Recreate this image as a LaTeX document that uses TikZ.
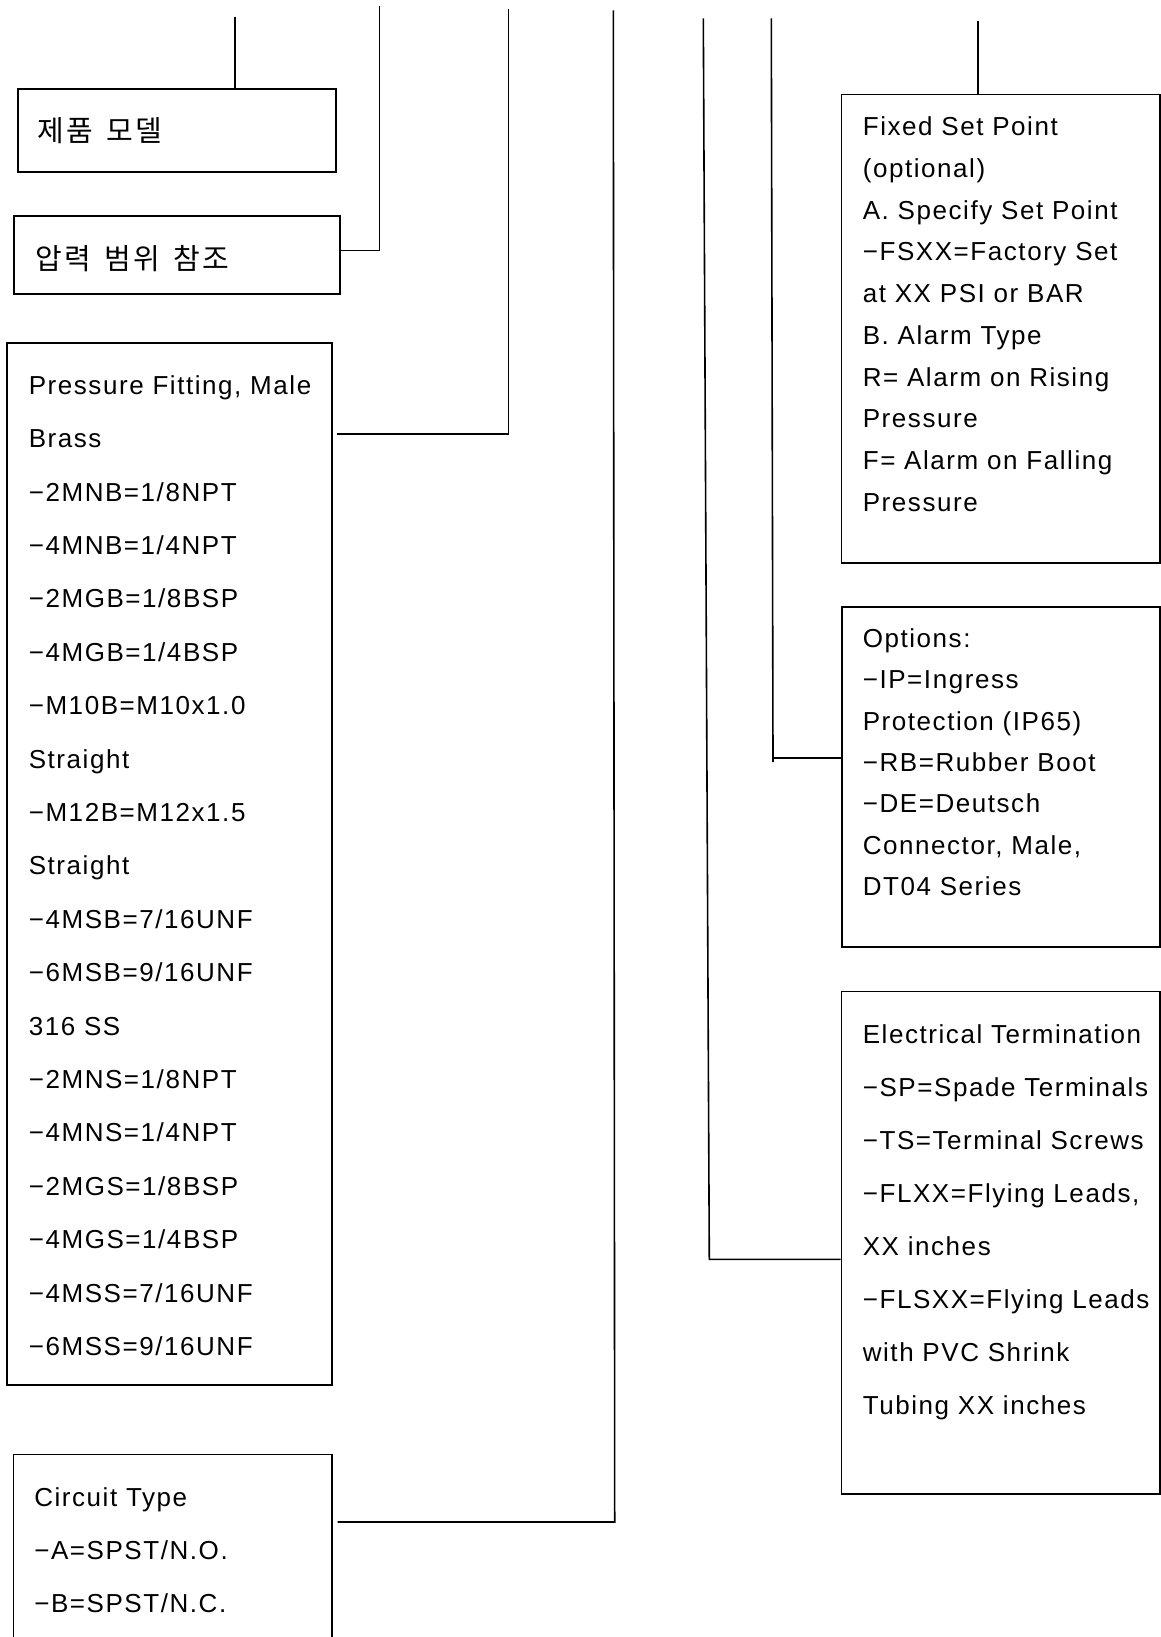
\documentclass[tikz,border=0pt]{standalone}
\usepackage{fontspec}
\setmainfont{Liberation Sans}[LetterSpace=6]
\newfontfamily\krfont{Noto Sans CJK KR}
\usetikzlibrary{calc}
\newlength\lmar
\newcommand\tline[1]{\hbox to\hsize{\hskip\lmar #1\hfil}}
\newcommand\firstline[2]{\hbox to\hsize{\hskip\lmar\rule{0pt}{#1}#2\hfil}}
\newcommand\kk{\kern2.2pt\relax}
\begin{document}
\begin{tikzpicture}[x=1pt,y=-1pt,
  frame/.style={draw, line width=1.6pt, inner sep=0pt, anchor=north west},
  wire/.style={line width=1.6pt}]
\useasboundingbox (0,0) rectangle (1160,1637);
\fill[white] (0,0) rectangle (1160,1637);

% left boxes
\node[frame, minimum width=318pt, minimum height=83pt] (prod) at (17,88)
  {\parbox[c][83pt][t]{318pt}{\krfont\fontsize{29}{30}\selectfont\spaceskip=13.5pt\setlength\lmar{19.5pt}%
   \firstline{52.5pt}{제\kk 품 모\kk 델}}};
\node[frame, minimum width=326pt, minimum height=78pt] (range) at (13,215)
  {\parbox[c][78pt][t]{326pt}{\krfont\fontsize{29}{30}\selectfont\spaceskip=13.5pt\setlength\lmar{21.5pt}%
   \firstline{53.5pt}{압\kk 력 범\kk 위 참\kk 조}}};
\node[frame, minimum width=325pt, minimum height=1042.3pt] (pf) at (6,342)
  {\parbox[c][1042.3pt][t]{325pt}{\fontsize{26}{53.4}\selectfont\setlength\lmar{22pt}%
   \firstline{51.5pt}{Pressure Fitting, Male}
   \tline{Brass}
   \tline{−2MNB=1/8NPT}
   \tline{−4MNB=1/4NPT}
   \tline{−2MGB=1/8BSP}
   \tline{−4MGB=1/4BSP}
   \tline{−M10B=M10x1.0}
   \tline{Straight}
   \tline{−M12B=M12x1.5}
   \tline{Straight}
   \tline{−4MSB=7/16UNF}
   \tline{−6MSB=9/16UNF}
   \tline{316 SS}
   \tline{−2MNS=1/8NPT}
   \tline{−4MNS=1/4NPT}
   \tline{−2MGS=1/8BSP}
   \tline{−4MGS=1/4BSP}
   \tline{−4MSS=7/16UNF}
   \tline{−6MSS=9/16UNF}}};
\node[frame, minimum width=318.5pt, minimum height=300pt] (circ) at (12.5,1453.7)
  {\parbox[c][300pt][t]{318.5pt}{\fontsize{26}{53}\selectfont\setlength\lmar{21pt}%
   \firstline{52.3pt}{Circuit Type}
   \tline{−A=SPST/N.O.}
   \tline{−B=SPST/N.C.}}};

% right boxes
\node[frame, minimum width=318.3pt, minimum height=468.4pt] (fixed) at (840.7,93.6)
  {\parbox[c][468.4pt][t]{318.3pt}{\fontsize{26}{41.7}\selectfont\setlength\lmar{21.3pt}%
   \firstline{41.4pt}{Fixed Set Point}
   \tline{(optional)}
   \tline{A. Specify Set Point}
   \tline{−FSXX=Factory Set}
   \tline{at XX PSI or BAR}
   \tline{B. Alarm Type}
   \tline{R= Alarm on Rising}
   \tline{Pressure}
   \tline{F= Alarm on Falling}
   \tline{Pressure}}};
\node[frame, minimum width=318pt, minimum height=340pt] (opts) at (841,606)
  {\parbox[c][340pt][t]{318pt}{\fontsize{26}{41.4}\selectfont\setlength\lmar{21pt}%
   \firstline{40.5pt}{Options:}
   \tline{−IP=Ingress}
   \tline{Protection (IP65)}
   \tline{−RB=Rubber Boot}
   \tline{−DE=Deutsch}
   \tline{Connector, Male,}
   \tline{DT04 Series}}};
\node[frame, minimum width=318.3pt, minimum height=502.7pt] (elec) at (840.7,990.5)
  {\parbox[c][502.7pt][t]{318.3pt}{\fontsize{26}{53}\selectfont\setlength\lmar{21.3pt}%
   \firstline{52.5pt}{Electrical Termination}
   \tline{−SP=Spade Terminals}
   \tline{−TS=Terminal Screws}
   \tline{−FLXX=Flying Leads,}
   \tline{XX inches}
   \tline{−FLSXX=Flying Leads}
   \tline{with PVC Shrink}
   \tline{Tubing XX inches}}};

% connectors
\coordinate (t1) at (235,17);
\draw[wire] (t1) -- (t1 |- prod.north);

\coordinate (t2) at (379.3,5.7);
\coordinate (k2) at (379.3,250.5);
\draw[wire] (t2) -- (k2) -- (k2 -| range.east);

\coordinate (t3) at (508.3,9);
\coordinate (k3) at (508.3,434);
\draw[wire] (t3) -- (k3) -- ([xshift=4pt]k3 -| pf.east);

\coordinate (t4) at (613.3,10.3);
\coordinate (k4) at (614.7,1522);
\draw[wire] (t4) -- (k4) -- ([xshift=5pt]k4 -| circ.east);

\coordinate (tA) at (703.3,18.3);
\coordinate (kA) at (709.3,1259.3);
\draw[wire] (tA) -- (kA) -- (kA -| elec.west);

\coordinate (tB) at (771.3,18.3);
\coordinate (eB) at (773,762);
\coordinate (kB) at (773,758);
\draw[wire] (tB) -- (eB);
\draw[wire] (kB) -- (kB -| opts.west);

\coordinate (tC) at (977.7,21.3);
\draw[wire] (tC) -- (tC |- fixed.north);
\end{tikzpicture}
\end{document}
